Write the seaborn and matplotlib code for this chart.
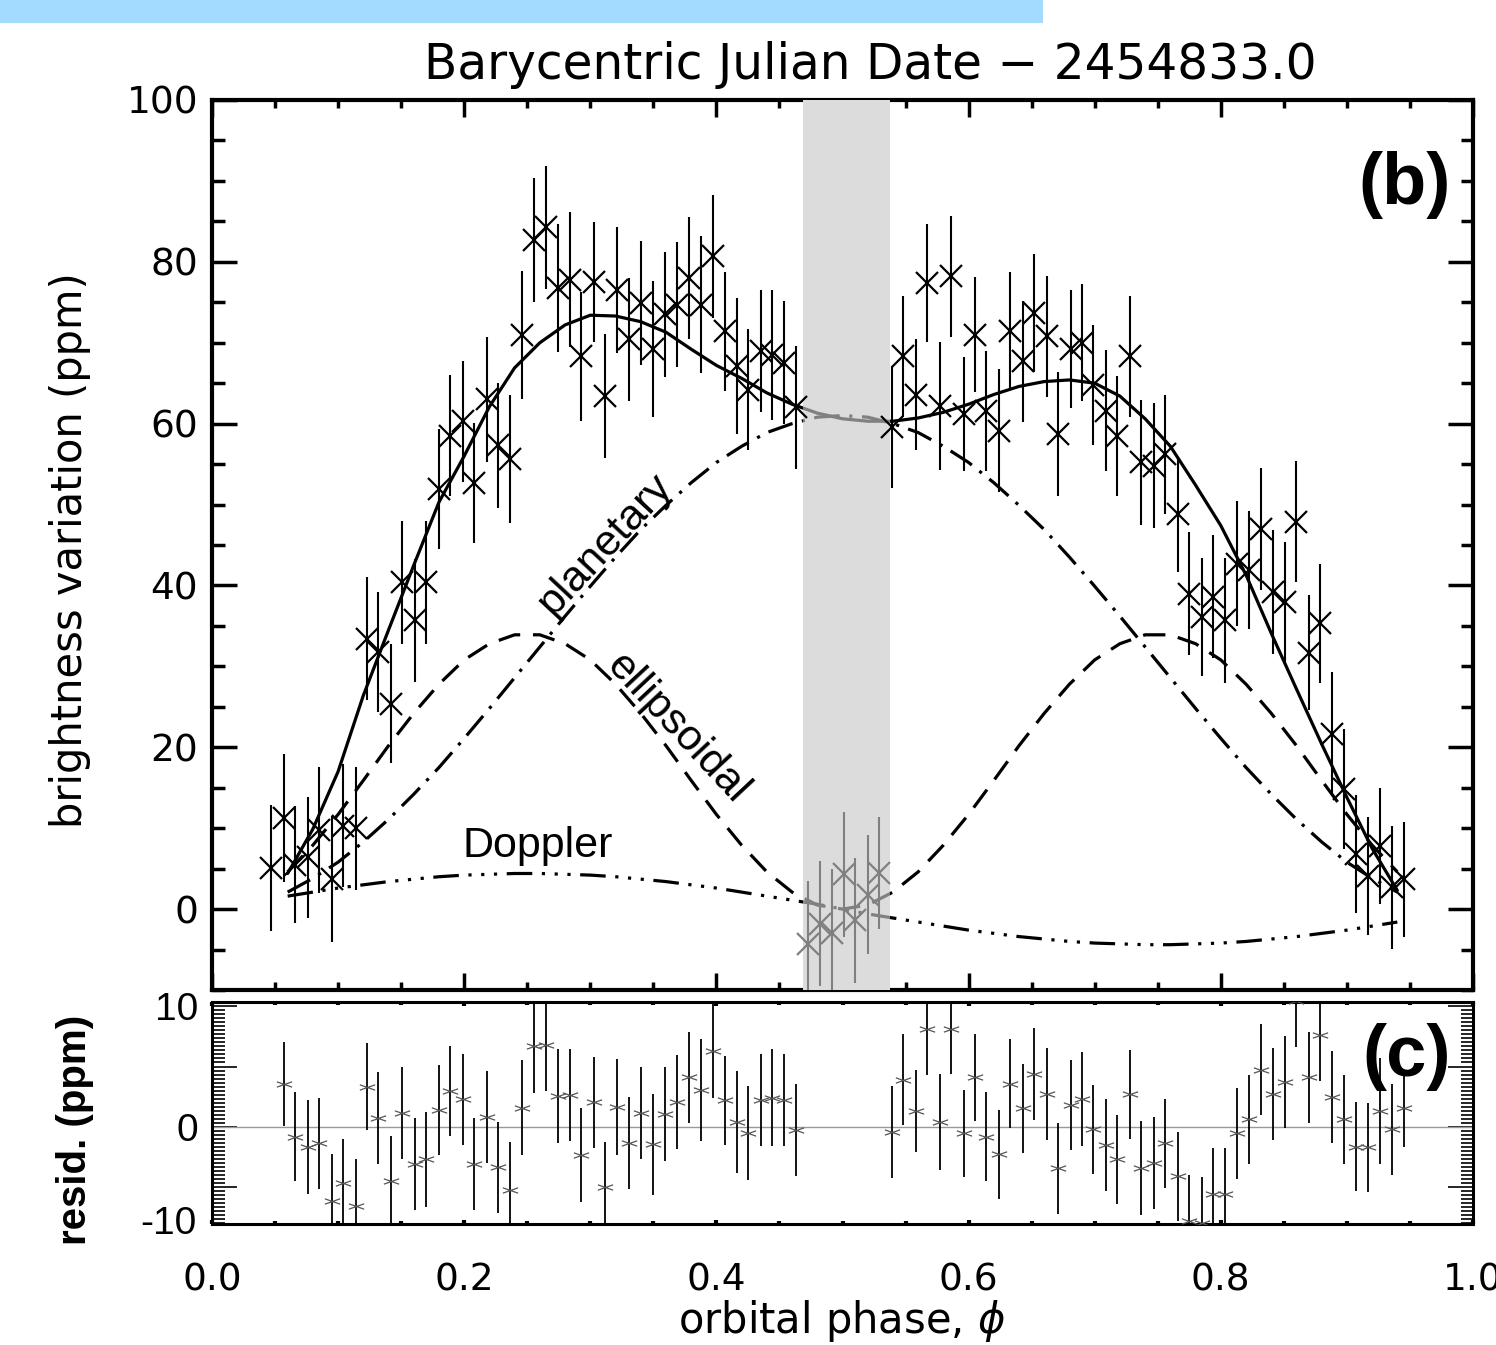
import numpy as np
import pandas as pd
import matplotlib
matplotlib.use('Agg')
import matplotlib.pyplot as plt
from matplotlib.path import Path
from matplotlib.patches import Rectangle
from matplotlib.ticker import MultipleLocator
import seaborn as sns

# phase-folded, binned light curve (panel b)
phase = [0.047, 0.057, 0.066, 0.076, 0.085, 0.095, 0.104, 0.114, 0.123, 0.132,
         0.142, 0.151, 0.161, 0.170, 0.180, 0.189, 0.199, 0.208, 0.218, 0.227,
         0.236, 0.246, 0.255, 0.265, 0.274, 0.284, 0.293, 0.303, 0.312, 0.321,
         0.331, 0.340, 0.350, 0.359, 0.369, 0.378, 0.388, 0.397, 0.407, 0.416,
         0.425, 0.435, 0.444, 0.454, 0.463, 0.473, 0.482, 0.492, 0.501, 0.510,
         0.520, 0.529, 0.539, 0.548, 0.558, 0.567, 0.577, 0.586, 0.596, 0.605,
         0.614, 0.624, 0.633, 0.643, 0.652, 0.662, 0.671, 0.681, 0.690, 0.699,
         0.709, 0.718, 0.728, 0.737, 0.747, 0.756, 0.766, 0.775, 0.785, 0.794,
         0.803, 0.813, 0.822, 0.832, 0.841, 0.851, 0.860, 0.870, 0.879, 0.888,
         0.898, 0.907, 0.917, 0.926, 0.936, 0.945]
flux = [5.1, 11.3, 5.5, 6.4, 9.8, 3.7, 10.3, 10.0, 33.4, 31.8,
        25.4, 40.4, 35.7, 40.4, 51.9, 58.5, 60.3, 52.7, 63.0, 57.3,
        55.6, 71.0, 82.7, 84.3, 76.8, 77.8, 68.3, 77.5, 63.4, 76.5,
        70.4, 74.9, 69.2, 73.5, 74.7, 78.0, 74.7, 80.7, 71.4, 67.1,
        64.2, 69.0, 68.5, 67.5, 62.0, -4.3, -1.8, -2.9, 4.3, -1.4,
        1.8, 4.5, 59.6, 68.3, 63.6, 77.4, 62.2, 78.2, 61.2, 71.0,
        61.6, 59.1, 71.5, 67.7, 73.7, 70.8, 58.7, 69.2, 70.0, 64.8,
        61.6, 58.5, 68.3, 55.2, 54.8, 56.2, 48.8, 39.0, 36.1, 38.6,
        35.7, 42.7, 41.9, 47.0, 39.2, 38.0, 47.9, 31.7, 35.3, 21.7,
        14.8, 6.8, 4.1, 7.8, 2.7, 3.7]
flux_err = [7.8, 7.9, 7.2, 7.5, 7.8, 7.8, 7.6, 7.6, 7.6, 7.4,
            7.4, 7.6, 7.6, 7.6, 7.4, 7.5, 7.5, 7.4, 7.7, 7.7,
            7.9, 7.9, 7.7, 7.6, 7.9, 8.3, 8.0, 7.4, 7.7, 7.8,
            7.6, 7.7, 8.4, 7.7, 7.7, 7.6, 8.5, 7.6, 7.4, 8.4,
            7.5, 7.5, 8.0, 7.6, 7.6, 7.8, 7.7, 7.8, 7.7, 7.7,
            7.3, 6.9, 7.5, 7.5, 6.8, 7.3, 7.9, 7.5, 7.0, 7.1,
            7.4, 7.6, 7.3, 7.5, 7.3, 7.5, 7.7, 7.3, 7.2, 7.4,
            7.5, 7.4, 7.5, 7.7, 7.7, 7.4, 7.1, 7.6, 7.3, 7.6,
            7.7, 7.7, 7.3, 7.5, 7.7, 7.4, 7.5, 7.1, 7.3, 7.6,
            7.4, 7.3, 7.3, 7.2, 7.6, 7.1]

# residuals (panel c); no residual for the first bin and the in-eclipse bins
nan = np.nan
resid = [nan, 3.54, -0.83, -1.66, -1.38, -6.16, -4.70, -6.57, 3.31, 0.75,
         -4.48, 1.16, -3.09, -2.71, 1.38, 2.96, 2.27, -3.09, 0.83, -3.37,
         -5.25, 1.60, 6.69, 6.77, 2.54, 2.62, -2.35, 2.02, -5.03, 1.66,
         -1.33, 1.16, -1.44, 1.05, 2.07, 4.09, 3.04, 6.27, 2.21, 0.41,
         -0.55, 2.21, 2.43, 2.21, -0.28, nan, nan, nan, nan, nan,
         nan, nan, -0.41, 3.92, 1.33, 8.09, 0.41, 8.15, -0.55, 4.09,
         -0.83, -2.27, 3.59, 1.52, 4.36, 2.71, -3.45, 1.80, 2.27, -0.22,
         -1.52, -2.71, 2.71, -3.45, -2.98, -1.38, -4.09, -7.79, -8.0, -5.58,
         -5.58, -0.55, 0.61, 4.75, 2.71, 3.73, 10.4, 4.09, 7.6, 2.49,
         0.61, -1.66, -1.71, 1.33, -0.22, 1.52]
resid_err = [3.8, 3.5, 3.7, 3.9, 3.8, 3.9, 3.7, 3.9, 3.6, 3.8,
             3.7, 3.8, 3.8, 3.95, 3.75, 3.7, 3.8, 3.8, 3.8, 3.8,
             4.0, 3.9, 3.9, 3.8, 3.9, 3.8, 3.9, 3.8, 3.8, 4.0,
             3.8, 3.8, 4.2, 3.9, 3.9, 3.8, 4.25, 3.9, 3.7, 4.2,
             3.9, 3.8, 4.0, 3.8, 3.8, 3.8, 3.8, 3.8, 3.8, 3.8,
             3.8, 3.8, 3.8, 3.8, 3.4, 3.8, 4.0, 3.8, 3.6, 3.6,
             3.7, 3.7, 3.7, 3.7, 3.8, 3.8, 3.8, 3.7, 3.9, 3.7,
             3.8, 3.7, 3.7, 3.9, 3.8, 3.7, 3.7, 3.8, 3.8, 3.8,
             3.8, 3.8, 3.7, 3.8, 3.8, 3.8, 3.8, 3.8, 3.8, 3.8,
             3.7, 3.7, 3.7, 4.4, 3.8, 3.2]

# model curves
model_phase = [0.06, 0.08, 0.10, 0.12, 0.14, 0.16, 0.18, 0.20, 0.22, 0.24,
               0.26, 0.28, 0.30, 0.32, 0.34, 0.36, 0.38, 0.40, 0.42, 0.44,
               0.46, 0.48, 0.50, 0.52, 0.54, 0.56, 0.58, 0.60, 0.62, 0.64,
               0.66, 0.68, 0.70, 0.72, 0.74, 0.76, 0.78, 0.80, 0.82, 0.84,
               0.86, 0.88, 0.90, 0.92, 0.94]
model_total = [4.4, 9.9, 17.0, 26.4, 34.5, 42.5, 50.3, 56.0, 62.1, 66.9,
               70.0, 72.2, 73.4, 73.3, 72.6, 71.3, 69.2, 67.2, 65.6, 63.8,
               62.4, 61.3, 60.6, 60.3, 60.3, 60.7, 61.4, 62.4, 63.6, 64.6,
               65.2, 65.4, 65.0, 63.4, 60.6, 57.2, 52.4, 47.4, 41.3, 34.1,
               27.2, 20.4, 13.8, 7.5, 2.3]
model_planet = [2.1, 3.8, 5.8, 8.3, 11.1, 14.2, 17.5, 21.1, 24.8, 28.6,
                32.4, 36.2, 39.9, 43.5, 46.9, 49.9, 52.7, 55.2, 57.2, 58.9,
                60.0, 60.8, 61.0, 60.8, 60.0, 58.9, 57.2, 55.2, 52.7, 49.9,
                46.9, 43.5, 39.9, 36.2, 32.4, 28.6, 24.8, 21.1, 17.5, 14.2,
                11.1, 8.3, 5.8, 3.8, 2.1]
model_ellip = [4.6, 7.9, 11.7, 15.9, 20.2, 24.2, 27.8, 30.8, 32.8, 33.9,
               33.9, 32.8, 30.8, 27.8, 24.2, 20.2, 15.9, 11.7, 7.9, 4.6,
               2.1, 0.5, 0.0, 0.5, 2.1, 4.6, 7.9, 11.7, 15.9, 20.2,
               24.2, 27.8, 30.8, 32.8, 33.9, 33.9, 32.8, 30.8, 27.8, 24.2,
               20.2, 15.9, 11.7, 7.9, 4.6]
model_doppler = [1.6, 2.1, 2.6, 3.0, 3.4, 3.7, 4.0, 4.2, 4.3, 4.4,
                 4.4, 4.3, 4.2, 4.0, 3.7, 3.4, 3.0, 2.6, 2.1, 1.6,
                 1.1, 0.6, 0.0, -0.6, -1.1, -1.6, -2.1, -2.6, -3.0, -3.4,
                 -3.7, -4.0, -4.2, -4.3, -4.4, -4.4, -4.3, -4.2, -4.0, -3.7,
                 -3.4, -3.0, -2.6, -2.1, -1.6]

eclipse = (0.469, 0.538)

sns.set_theme(style='ticks')
plt.rcParams['font.family'] = ['DejaVu Sans']
plt.rcParams['mathtext.fontset'] = 'dejavusans'
plt.rcParams.update({'text.color': 'black', 'axes.labelcolor': 'black',
                     'xtick.color': 'black', 'ytick.color': 'black'})
ARIAL = ['Liberation Sans', 'DejaVu Sans']

W, H = 1496, 1345
def box(x0, y0, x1, y1):
    return [x0 / W, 1 - y1 / H, (x1 - x0) / W, (y1 - y0) / H]

fig = plt.figure(figsize=(W / 100, H / 100), dpi=100)
fig.patches.append(Rectangle((0, 1 - 23 / H), 1043 / W, 23 / H, transform=fig.transFigure,
                             color='#a3daff', lw=0, zorder=0))
ax = fig.add_axes(box(212, 100, 1473, 990))
axr = fig.add_axes(box(212, 1002, 1473, 1224))

models = pd.DataFrame({'phase': model_phase, 'total': model_total, 'planet': model_planet,
                       'ellip': model_ellip, 'doppler': model_doppler})
styles = {'total': '-', 'planet': (0, (8, 3, 1, 3)), 'ellip': (0, (7, 4)),
          'doppler': (0, (8, 3, 1, 3, 1, 3, 1, 3))}

band = ax.axvspan(*eclipse, color='#dcdcdc', lw=0, zorder=3)
for col, ls in styles.items():
    sns.lineplot(data=models, x='phase', y=col, ax=ax, color='black', lw=2.3,
                 linestyle=ls, estimator=None, sort=False, zorder=2)
    sns.lineplot(data=models, x='phase', y=col, ax=ax, color='#808080', lw=2.3,
                 linestyle=ls, estimator=None, sort=False, zorder=4)
    ax.lines[-1].set_clip_path(band)

ph = np.array(phase)
fl = np.array(flux)
fe = np.array(flux_err)
inside = (ph > eclipse[0]) & (ph < eclipse[1])
for m, c, z in [(~inside, 'black', 6), (inside, '#808080', 5)]:
    ax.errorbar(ph[m], fl[m], yerr=fe[m], fmt='none', ecolor=c, elinewidth=1.5,
                capsize=0, zorder=z)
    ax.plot(ph[m], fl[m], linestyle='none', marker='x', ms=16, mew=1.6, color=c, zorder=z)

ax.set_xlim(0, 1)
ax.set_ylim(-10, 100)
ax.set_xlabel('')
ax.set_ylabel('')
ax.xaxis.set_major_locator(MultipleLocator(0.2))
ax.xaxis.set_minor_locator(MultipleLocator(0.05))
ax.set_yticks([0, 20, 40, 60, 80, 100])
ax.yaxis.set_minor_locator(MultipleLocator(5))
ax.tick_params(axis='x', which='both', direction='in', top=True, bottom=True,
               labelbottom=False, width=2.5, color='black')
ax.tick_params(axis='x', which='major', length=12)
ax.tick_params(axis='x', which='minor', length=6)
ax.tick_params(axis='y', which='both', direction='in', left=True, right=True,
               width=2.5, color='black', labelsize=27, pad=10)
ax.tick_params(axis='y', which='major', length=18)
ax.tick_params(axis='y', which='minor', length=9)
for s in ax.spines.values():
    s.set_linewidth(3)
    s.set_color('black')

ax.text(0.258, 7.8, 'Doppler', family=ARIAL, fontsize=31, ha='center', va='center')
ax.text(0.312, 45.1, 'planetary', family=ARIAL, fontsize=31, ha='center', va='center',
        rotation=47, rotation_mode='anchor')
ax.text(0.369, 22.4, 'ellipsoidal', family=ARIAL, fontsize=31, ha='center', va='center',
        rotation=-47, rotation_mode='anchor')
fig.text(1405 / W, 1 - 185 / H, '(b)', family=ARIAL, fontsize=52, weight='bold',
         ha='center', va='center')

# residual panel
flat_x = Path([(-1, -0.35), (1, 0.35), (-1, 0.35), (1, -0.35)],
              [Path.MOVETO, Path.LINETO, Path.MOVETO, Path.LINETO])
axr.axhline(0, color='#999999', lw=1, zorder=1)
axr.errorbar(ph, resid, yerr=resid_err, fmt='none', ecolor='black', elinewidth=1.3,
             capsize=0, zorder=3)
axr.plot(ph, resid, linestyle='none', marker=flat_x, ms=11, mew=0.9, color='#555555', zorder=4)
axr.set_xlim(0, 1)
axr.set_ylim(-8.06, 10.35)
axr.xaxis.set_major_locator(MultipleLocator(0.2))
axr.xaxis.set_minor_locator(MultipleLocator(0.05))
axr.set_xticks([0, 0.2, 0.4, 0.6, 0.8, 1.0], labels=['0.0', '0.2', '0.4', '0.6', '0.8', '1.0'])
axr.set_yticks([-5, 0, 5, 10], labels=['', '0', '', '10'])
axr.yaxis.set_minor_locator(MultipleLocator(1 / 3))
axr.tick_params(axis='x', which='both', direction='in', top=True, bottom=True,
                width=3, color='black', labelsize=27, pad=28)
axr.tick_params(axis='x', which='major', length=3)
axr.tick_params(axis='x', which='minor', length=2)
axr.tick_params(axis='y', which='both', direction='in', left=True, right=True,
                width=1.2, color='black', pad=10)
axr.tick_params(axis='y', which='major', length=18)
axr.tick_params(axis='y', which='minor', length=9)
for lab in axr.get_yticklabels():
    lab.set_fontfamily(ARIAL)
    lab.set_fontsize(28)
axr.text(-0.012, 0.0, '-10', transform=axr.transAxes, family=ARIAL, fontsize=28,
         ha='right', va='center')
for s in axr.spines.values():
    s.set_linewidth(2.2)
    s.set_color('black')
axr.set_xlabel('')
axr.set_ylabel('')
fig.text(1407 / W, 1 - 1057 / H, '(c)', family=ARIAL, fontsize=52, weight='bold',
         ha='center', va='center')

# axis titles
fig.text(870 / W, 1 - 65 / H, 'Barycentric Julian Date \u2212 2454833.0', fontsize=35,
         ha='center', va='center')
fig.text(70 / W, 1 - 550 / H, 'brightness variation (ppm)', fontsize=30, rotation=90,
         ha='center', va='center')
fig.text(842 / W, 1 - 1321 / H, r'orbital phase, $\phi$', fontsize=30,
         ha='center', va='center')
fig.text(75 / W, 1 - 1130 / H, 'resid. (ppm)', family=ARIAL, fontsize=29, weight='bold',
         rotation=90, ha='center', va='center')

fig.savefig('out.png', dpi=100)
